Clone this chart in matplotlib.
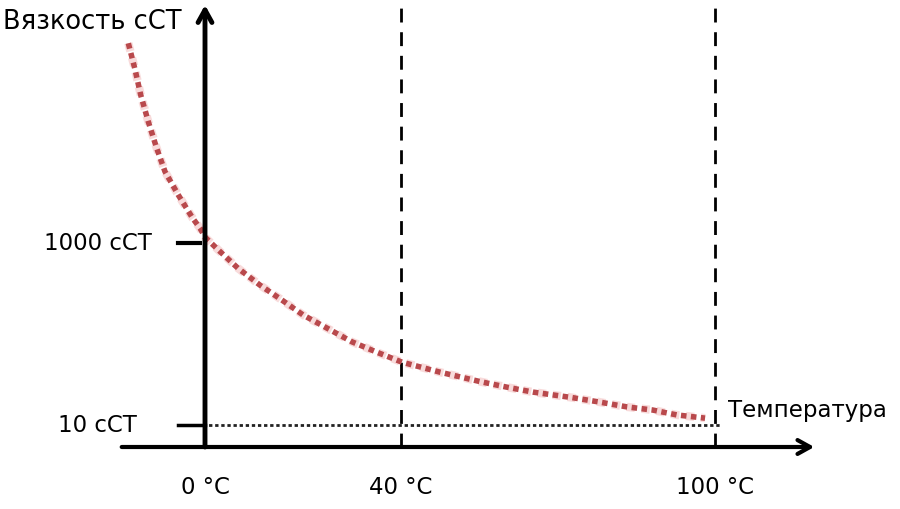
import numpy as np
import matplotlib
matplotlib.use("Agg")
import matplotlib.pyplot as plt

# ---- data (schematic viscosity vs temperature curve) ----
temps = [-15.65, -14.29, -13.12, -11.57, -9.86, -8.16, -5.45, -2.51, -1.0, 0.0, 2.7, 6.7,
         11.2, 15.7, 20.0, 24.9, 30.0, 35.1, 40.2, 47.5, 55.1, 60.3, 65.2, 72.7,
         77.6, 83.2, 88.1, 92.7, 98.1]
viscosity = [156700, 81100, 42300, 21500, 11000, 6080, 3370, 1870, 1450, 1160, 840, 530,
             345, 236, 162, 116, 82, 63, 49, 38, 30, 26, 23, 20,
             18, 15.8, 14.6, 12.9, 11.9]
ref_temps = [0, 40, 100]
ref_temp_labels = ["0 °C", "40 °C", "100 °C"]
ref_visc = [1000, 10]
ref_visc_labels = ["1000 сСТ", "10 сСТ"]
y_title = "Вязкость сСТ"
x_title = "Температура"

# ---- schematic (non-uniform) temperature scale ----
T_KNOTS = [-41.84, 0, 40, 100, 135.4]
P_KNOTS = [0, 205, 401, 715, 900]
fwd = lambda t: np.interp(t, T_KNOTS, P_KNOTS)
inv = lambda p: np.interp(p, P_KNOTS, T_KNOTS)

fig = plt.figure(figsize=(9, 5.09), dpi=100)
ax = fig.add_axes([0, 0, 1, 1])
ax.set_xscale('function', functions=(fwd, inv))
ax.set_yscale('log')
ax.set_xlim(T_KNOTS[0], T_KNOTS[-1])
y_lo, y_hi = 10 ** (1 - 84 / 91), 10 ** (3 + 243 / 91)
ax.set_ylim(y_lo, y_hi)
ax.axis('off')

v_axis = 10 ** (1 - 22 / 91)   # level of the horizontal axis
FONT = dict(family='DejaVu Sans', fontsize=16.5, color='black')

# dashed reference verticals
for t in ref_temps[1:]:
    ax.plot([t, t], [v_axis, y_hi], color='black', lw=2,
            dashes=(5, 3.5), zorder=2)

# 10 cST dotted level line + ticks
ax.plot([-5.5, 101], [ref_visc[1]] * 2, color='#222222', lw=2,
        dashes=(1.2, 1.0), zorder=2)
ax.plot([-5.5, 0], [ref_visc[1]] * 2, color='black', lw=2.5, zorder=3)
ax.plot([-5.5, -1], [ref_visc[0]] * 2, color='black', lw=3, zorder=3)

# curve: pink halo + red dotted squares
ax.plot(temps, viscosity, color='#f4c4c4', lw=6, alpha=0.6,
        dashes=(1.0, 0.8), zorder=4)
ax.plot(temps, viscosity, color='#b9494c', lw=4,
        dashes=(1.0, 0.8), zorder=5)

# axes with arrows
ax.annotate('', xy=(119, v_axis), xytext=(-17, v_axis),
            arrowprops=dict(arrowstyle='->,head_length=0.9,head_width=0.5',
                            lw=3, color='black', shrinkA=0, shrinkB=0), zorder=6)
ax.annotate('', xy=(0, 10 ** (3 + 238 / 91)), xytext=(0, v_axis),
            arrowprops=dict(arrowstyle='->,head_length=0.9,head_width=0.5',
                            lw=3.5, color='black', shrinkA=0, shrinkB=0), zorder=6)

# labels
for t, lab in zip(ref_temps, ref_temp_labels):
    ax.text(t, 10 ** (1 - 62 / 91), lab, ha='center', va='center', **FONT)
ax.text(-10.8, ref_visc[0], ref_visc_labels[0], ha='right', va='center', **FONT)
ax.text(-13.9, ref_visc[1], ref_visc_labels[1], ha='right', va='center', **FONT)
ax.text(102.5, 10 ** (3 - 167 / 91), x_title, ha='left', va='center', **FONT)
ax.text(-41.2, 10 ** (3 + 221 / 91), y_title, ha='left', va='center',
        family='DejaVu Sans', fontsize=18.5, color='black')

fig.savefig('out.png', dpi=100)
